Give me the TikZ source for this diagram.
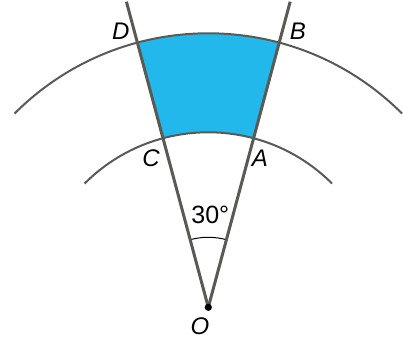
\documentclass[tikz,border=0pt]{standalone}
\usepackage{fontspec}
\setmainfont{Liberation Sans}
\begin{document}
\begin{tikzpicture}[x=1pt,y=1pt,
  radial/.style={draw=linegray,line width=3pt},
  arcline/.style={draw=linegray,line width=2pt},
  lbl/.style={font=\fontsize{24}{28}\selectfont\itshape,inner sep=0pt}]
\definecolor{linegray}{HTML}{5A5A55}
\definecolor{sectorblue}{HTML}{22B8EC}
\useasboundingbox (-208.3,-34.7) rectangle (194.7,307.3);
\coordinate (O) at (0,0);
\coordinate (Ltop) at (105:316.4);
\coordinate (Rtop) at (75:316.4);
% shaded region
\fill[sectorblue] (75:175) arc[start angle=75,end angle=105,radius=175]
  -- (105:274) arc[start angle=105,end angle=75,radius=274] -- cycle;
% arcs
\draw[arcline] (45:274) arc[start angle=45,end angle=135,radius=274];
\draw[arcline] (45:175) arc[start angle=45,end angle=135,radius=175];
\draw[draw=black,line width=1pt] (75:70) arc[start angle=75,end angle=105,radius=70];
% radial lines
\draw[radial] (O) -- (Ltop);
\draw[radial] (O) -- (Rtop);
\fill[black] (O) circle (3.6);
% labels
\node[lbl] (D) at (-87.5,276) {D};
\node[lbl] (B) at (89.5,276) {B};
\node[lbl] (C) at (-57.3,149) {C};
\node[lbl] (A) at (51.7,149) {A};
\node[lbl] (Olbl) at (-8.3,-18.5) {O};
\node[font=\fontsize{25}{28}\selectfont,inner sep=0pt] (ang) at (2,92.3) {30°};
\end{tikzpicture}
\end{document}
